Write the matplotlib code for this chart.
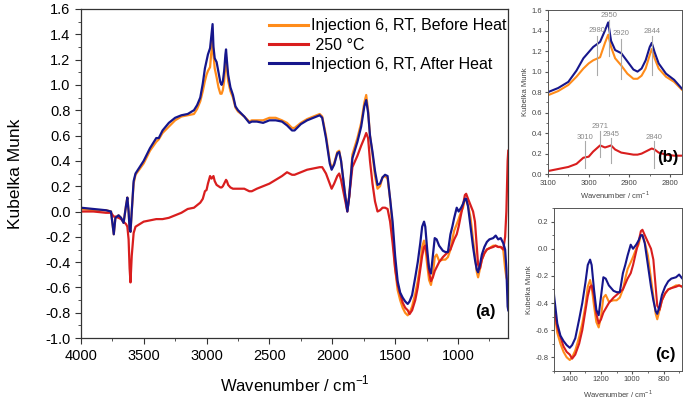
import matplotlib
matplotlib.use("Agg")
import matplotlib.pyplot as plt
from matplotlib.ticker import MultipleLocator

plt.rcParams['font.family'] = ['Liberation Sans', 'DejaVu Sans']

# ---------------- data ----------------
wavenumber = [4000, 3900, 3800, 3760, 3745, 3738, 3725, 3700, 3680, 3660, 3640, 3630, 3620, 3612, 3605,
              3595, 3580, 3565, 3500, 3450, 3400, 3380, 3350, 3300, 3250, 3200, 3150, 3100, 3075, 3050,
              3030, 3013, 3000, 2989, 2972, 2960, 2952, 2945, 2935, 2920, 2905, 2890, 2880, 2870, 2860,
              2850, 2845, 2838, 2828, 2810, 2790, 2770, 2750, 2700, 2660, 2640, 2600, 2550, 2500, 2450,
              2400, 2360, 2320, 2300, 2250, 2200, 2150, 2100, 2080, 2050, 2020, 2005, 1985, 1960, 1945,
              1930, 1900, 1880, 1865, 1840, 1800, 1770, 1745, 1730, 1715, 1700, 1680, 1660, 1640, 1620,
              1600, 1580, 1560, 1540, 1520, 1500, 1480, 1460, 1440, 1420, 1400, 1385, 1365, 1340, 1320,
              1300, 1285, 1270, 1260, 1245, 1230, 1215, 1200, 1185, 1170, 1150, 1120, 1100, 1080, 1060,
              1045, 1030, 1010, 995, 975, 960, 945, 935, 920, 900, 880, 865, 850, 840, 825,
              810, 790, 770, 750, 720, 700, 680, 660, 640, 625, 615, 605, 600]

before_heat = [0.02, 0.01, 0.01, 0.00, -0.12, -0.18, -0.05, -0.03, -0.05, -0.09, 0.05, 0.11, 0.00, -0.14, -0.16,
               0.00, 0.22, 0.29, 0.38, 0.48, 0.55, 0.57, 0.62, 0.67, 0.72, 0.75, 0.76, 0.77, 0.81, 0.87,
               0.95, 1.03, 1.08, 1.11, 1.14, 1.28, 1.36, 1.24, 1.13, 1.06, 0.98, 0.93, 0.93, 0.96, 1.03,
               1.16, 1.22, 1.13, 1.03, 0.95, 0.90, 0.82, 0.79, 0.75, 0.71, 0.72, 0.72, 0.72, 0.74, 0.74,
               0.72, 0.70, 0.66, 0.66, 0.70, 0.73, 0.75, 0.77, 0.75, 0.60, 0.40, 0.34, 0.38, 0.47, 0.48,
               0.40, 0.15, 0.01, 0.12, 0.45, 0.58, 0.70, 0.86, 0.92, 0.80, 0.60, 0.45, 0.28, 0.18, 0.20,
               0.27, 0.28, 0.26, 0.10, -0.15, -0.45, -0.62, -0.70, -0.76, -0.80, -0.82, -0.80, -0.75, -0.65, -0.55,
               -0.42, -0.28, -0.23, -0.28, -0.42, -0.54, -0.58, -0.50, -0.36, -0.34, -0.39, -0.38, -0.38, -0.36, -0.30,
               -0.22, -0.15, -0.10, -0.06, 0.00, 0.03, 0.10, 0.10, 0.05, -0.05, -0.22, -0.35, -0.48, -0.52, -0.45,
               -0.38, -0.33, -0.30, -0.29, -0.27, -0.27, -0.28, -0.28, -0.30, -0.45, -0.52, -0.55, -0.55]

heated_250 = [0.00, 0.00, -0.01, -0.01, -0.03, -0.04, -0.04, -0.05, -0.06, -0.08, -0.10, -0.12, -0.22, -0.45, -0.56,
              -0.35, -0.17, -0.12, -0.08, -0.07, -0.06, -0.06, -0.06, -0.05, -0.03, -0.01, 0.02, 0.03, 0.05, 0.07,
              0.10, 0.16, 0.17, 0.22, 0.28, 0.26, 0.27, 0.28, 0.24, 0.21, 0.20, 0.19, 0.19, 0.20, 0.22,
              0.24, 0.25, 0.24, 0.21, 0.19, 0.18, 0.18, 0.18, 0.18, 0.16, 0.16, 0.18, 0.20, 0.22, 0.25,
              0.28, 0.31, 0.29, 0.29, 0.31, 0.33, 0.34, 0.35, 0.35, 0.30, 0.22, 0.18, 0.22, 0.28, 0.30,
              0.25, 0.10, 0.00, 0.12, 0.35, 0.44, 0.52, 0.58, 0.62, 0.58, 0.40, 0.22, 0.08, 0.00, 0.01,
              0.03, 0.03, 0.02, -0.08, -0.25, -0.45, -0.58, -0.65, -0.72, -0.76, -0.78, -0.81, -0.78, -0.70, -0.60,
              -0.46, -0.35, -0.28, -0.27, -0.35, -0.48, -0.55, -0.52, -0.47, -0.44, -0.40, -0.36, -0.34, -0.32, -0.30,
              -0.26, -0.22, -0.18, -0.12, -0.02, 0.05, 0.13, 0.14, 0.10, 0.05, 0.00, -0.08, -0.28, -0.42, -0.45,
              -0.38, -0.33, -0.30, -0.29, -0.28, -0.27, -0.28, -0.28, -0.30, -0.20, 0.00, 0.40, 0.48]

after_heat = [0.03, 0.02, 0.01, 0.00, -0.12, -0.18, -0.05, -0.03, -0.05, -0.09, 0.05, 0.11, 0.00, -0.14, -0.16,
              0.00, 0.24, 0.30, 0.40, 0.50, 0.58, 0.58, 0.64, 0.70, 0.74, 0.76, 0.77, 0.80, 0.84, 0.90,
              1.01, 1.13, 1.19, 1.24, 1.29, 1.40, 1.48, 1.30, 1.21, 1.18, 1.10, 1.02, 1.00, 1.03, 1.11,
              1.24, 1.28, 1.19, 1.08, 0.98, 0.92, 0.83, 0.80, 0.75, 0.70, 0.71, 0.71, 0.70, 0.72, 0.72,
              0.71, 0.68, 0.64, 0.64, 0.69, 0.72, 0.74, 0.76, 0.74, 0.58, 0.38, 0.33, 0.37, 0.46, 0.47,
              0.40, 0.15, 0.00, 0.12, 0.42, 0.55, 0.67, 0.83, 0.88, 0.78, 0.60, 0.47, 0.32, 0.21, 0.22,
              0.27, 0.29, 0.28, 0.10, -0.08, -0.35, -0.55, -0.64, -0.68, -0.71, -0.73, -0.71, -0.66, -0.52, -0.40,
              -0.25, -0.12, -0.08, -0.12, -0.30, -0.45, -0.49, -0.35, -0.21, -0.22, -0.27, -0.31, -0.32, -0.32, -0.18,
              -0.12, -0.05, 0.03, 0.00, 0.03, 0.06, 0.10, 0.10, 0.04, -0.12, -0.28, -0.38, -0.46, -0.48, -0.42,
              -0.34, -0.28, -0.24, -0.22, -0.21, -0.19, -0.22, -0.21, -0.25, -0.30, -0.45, -0.75, -0.78]

series_labels = ["Injection 6, RT, Before Heat", " 250 °C", "Injection 6, RT, After Heat"]
series_colors = ["#FF8C1A", "#D91E1E", "#16168C"]

# peak annotations of inset (b)
upper_peaks = [2980, 2950, 2920, 2844]
lower_peaks = [3010, 2971, 2945, 2840]

# ---------------- figure ----------------
fig = plt.figure(figsize=(6.85, 4.04), dpi=100)
fig.patch.set_facecolor("white")

series = [before_heat, heated_250, after_heat]


def draw(ax, lw):
    for vals, c, lab in zip(series, series_colors, series_labels):
        ax.plot(wavenumber, vals, color=c, lw=lw, label=lab, solid_joinstyle='round')


# main axes (a)
ax = fig.add_axes([0.118, 0.163, 0.624, 0.815])
draw(ax, 1.6)
ax.set_xlim(4000, 600)
ax.set_ylim(-1.0, 1.6)
ax.xaxis.set_major_locator(MultipleLocator(500))
ax.xaxis.set_minor_locator(MultipleLocator(250))
ax.yaxis.set_minor_locator(MultipleLocator(0.1))
ax.set_yticks([round(-1.0 + 0.2 * i, 1) for i in range(14)])
ax.set_yticklabels([f"{-1.0 + 0.2 * i:.1f}" for i in range(14)])
ax.tick_params(which='both', direction='out', top=False, right=False, labelsize=10.5, color='#333333')
ax.tick_params(which='major', length=4)
ax.tick_params(which='minor', length=2.5)
ax.set_xlabel("Wavenumber / cm$^{\\mathregular{-1}}$", fontsize=12, labelpad=8)
ax.set_ylabel("Kubelka Munk", fontsize=12.5, labelpad=16)
for s in ax.spines.values():
    s.set_color('#333333')
    s.set_linewidth(0.9)
leg = ax.legend(loc='upper right', bbox_to_anchor=(1.018, 1.0), frameon=False, fontsize=11.5,
                handlelength=2.5, handletextpad=0.15, labelspacing=0.26, borderaxespad=0.2)
for h in leg.get_lines():
    h.set_linewidth(2.2)
ax.text(0.97, 0.08, "(a)", transform=ax.transAxes, ha='right', va='center', fontsize=12, fontweight='bold')

# inset (b)
axb = fig.add_axes([0.800, 0.569, 0.196, 0.406])
draw(axb, 1.5)
axb.set_xlim(3100, 2770)
axb.set_ylim(0.0, 1.6)
axb.xaxis.set_major_locator(MultipleLocator(100))
axb.xaxis.set_minor_locator(MultipleLocator(50))
axb.yaxis.set_minor_locator(MultipleLocator(0.1))
axb.set_yticks([round(0.2 * i, 1) for i in range(9)])
axb.set_yticklabels([f"{0.2 * i:.1f}" for i in range(9)])
axb.tick_params(which='both', direction='out', labelsize=5.5, pad=1.5, color='#555555', labelcolor='#444444')
axb.tick_params(which='major', length=2.5)
axb.tick_params(which='minor', length=1.5)
axb.set_xlabel("Wavenumber / cm$^{\\mathregular{-1}}$", fontsize=5.5, labelpad=2, color='#444444')
axb.set_ylabel("Kubelka Munk", fontsize=5.5, labelpad=2, color='#444444')
up_rng = {2980: (0.97, 1.35, 1.40), 2950: (1.15, 1.50, 1.55), 2920: (0.93, 1.32, 1.37), 2844: (0.97, 1.35, 1.39)}
lo_rng = {3010: (0.06, 0.32, 0.36), 2971: (0.17, 0.42, 0.46), 2945: (0.11, 0.35, 0.39), 2840: (0.06, 0.32, 0.36)}
for pk in upper_peaks:
    y0, y1, yt = up_rng[pk]
    axb.plot([pk, pk], [y0, y1], color='#AAAAAA', lw=0.8, zorder=5)
    axb.text(pk, yt, str(pk), ha='center', va='center', fontsize=5.5, color='#888888')
for pk in lower_peaks:
    y0, y1, yt = lo_rng[pk]
    axb.plot([pk, pk], [y0, y1], color='#AAAAAA', lw=0.8, zorder=5)
    axb.text(pk, yt, str(pk), ha='center', va='center', fontsize=5.5, color='#888888')
axb.text(0.97, 0.1, "(b)", transform=axb.transAxes, ha='right', va='center', fontsize=12, fontweight='bold')
for s in axb.spines.values():
    s.set_color('#555555')
    s.set_linewidth(0.7)

# inset (c)
axc = fig.add_axes([0.809, 0.082, 0.187, 0.403])
draw(axc, 1.5)
axc.set_xlim(1500, 680)
axc.set_ylim(-0.9, 0.3)
axc.xaxis.set_major_locator(MultipleLocator(200))
axc.xaxis.set_minor_locator(MultipleLocator(100))
axc.set_yticks([0.2, 0.0, -0.2, -0.4, -0.6, -0.8])
axc.set_yticklabels(["0.2", "0.0", "-0.2", "-0.4", "-0.6", "-0.8"])
axc.yaxis.set_minor_locator(MultipleLocator(0.1))
axc.tick_params(which='both', direction='out', labelsize=5.5, pad=1.5, color='#555555', labelcolor='#444444')
axc.tick_params(which='major', length=2.5)
axc.tick_params(which='minor', length=1.5)
axc.set_xlabel("Wavenumber / cm$^{\\mathregular{-1}}$", fontsize=5.5, labelpad=3, color='#444444')
axc.set_ylabel("Kubelka Munk", fontsize=5.5, labelpad=2, color='#444444')
axc.text(0.95, 0.1, "(c)", transform=axc.transAxes, ha='right', va='center', fontsize=12, fontweight='bold')
for s in axc.spines.values():
    s.set_color('#555555')
    s.set_linewidth(0.7)

fig.savefig("out.png", dpi=100, facecolor="white")
